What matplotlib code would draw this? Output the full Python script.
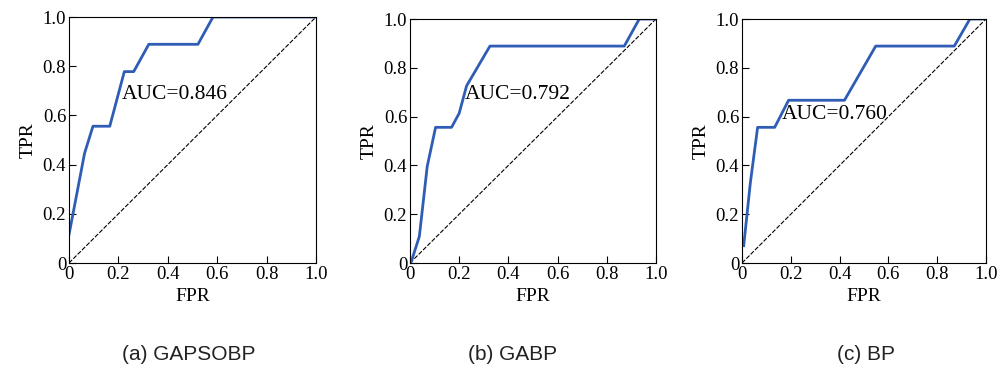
import numpy as np
import matplotlib
matplotlib.use("Agg")
import matplotlib.pyplot as plt

# courbes ROC
fpr_a = [0.0, 0.063, 0.097, 0.165, 0.224, 0.262, 0.323, 0.522, 0.583, 1.0]
tpr_a = [0.115, 0.446, 0.556, 0.556, 0.778, 0.778, 0.889, 0.889, 1.0, 1.0]

fpr_b = [0.005, 0.038, 0.07, 0.104, 0.169, 0.2, 0.23, 0.325, 0.871, 0.932, 1.0]
tpr_b = [0.005, 0.109, 0.396, 0.556, 0.556, 0.614, 0.726, 0.889, 0.889, 1.0, 1.0]

fpr_c = [0.007, 0.034, 0.064, 0.134, 0.191, 0.42, 0.548, 0.87, 0.934, 1.0]
tpr_c = [0.071, 0.327, 0.556, 0.556, 0.667, 0.667, 0.889, 0.889, 1.0, 1.0]

auc_labels = ["AUC=0.846", "AUC=0.792", "AUC=0.760"]
auc_pos = [(0.212, 0.685), (0.222, 0.69), (0.165, 0.61)]
captions = ["(a) GAPSOBP", "(b) GABP", "(c) BP"]
cap_x = [189, 513, 866]

ticks = [0, 0.2, 0.4, 0.6, 0.8, 1.0]
tick_labels = ["0", "0.2", "0.4", "0.6", "0.8", "1.0"]

W, H = 1002, 372
fig = plt.figure(figsize=(W / 100, H / 100), dpi=100)

# positions des axes en pixels (gauche, droite, haut, bas)
boites = [(69, 316, 17, 263), (410, 656, 19, 263), (742, 986, 19, 263)]
donnees = [(fpr_a, tpr_a), (fpr_b, tpr_b), (fpr_c, tpr_c)]

serif = "Liberation Serif"
for i, ((l, r, t, b), (x, y)) in enumerate(zip(boites, donnees)):
    ax = fig.add_axes([l / W, 1 - b / H, (r - l) / W, (b - t) / H])
    ax.plot([0, 1], [0, 1], color="black", lw=0.8, ls=(0, (4, 1.5)))
    ax.plot(x, y, color="#2f5db5", lw=2)
    ax.set_xlim(0, 1)
    ax.set_ylim(0, 1)
    ax.set_xticks(ticks)
    ax.set_yticks(ticks)
    ax.set_xticklabels(tick_labels, family=serif, fontsize=13.5)
    ax.set_yticklabels(tick_labels, family=serif, fontsize=13.5)
    ax.tick_params(direction="in", length=5, width=0.8, pad=2)
    for s in ax.spines.values():
        s.set_linewidth(0.8)
    ax.set_xlabel("FPR", family=serif, fontsize=14, labelpad=4)
    ax.set_ylabel("TPR", family=serif, fontsize=14, labelpad=4)
    ax.text(auc_pos[i][0], auc_pos[i][1], auc_labels[i], family=serif,
            fontsize=15.5, va="center", ha="left")
    fig.text(cap_x[i] / W, 1 - 355 / H, captions[i], family="Liberation Sans",
             fontsize=15, ha="center", va="center", color="#222222")

fig.savefig("out.png", dpi=100)
